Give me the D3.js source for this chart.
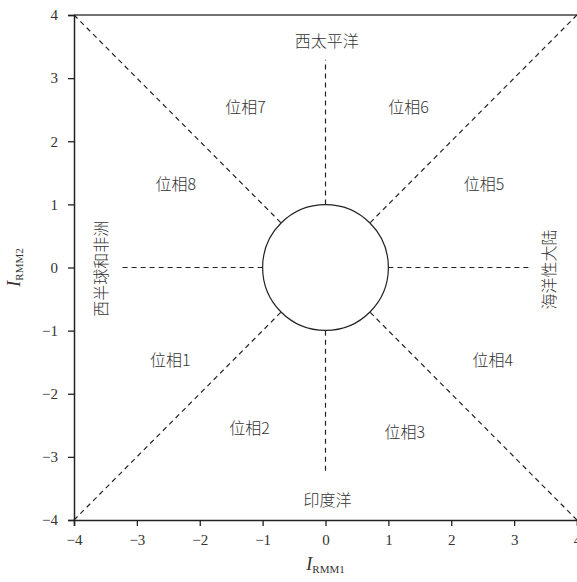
<!DOCTYPE html>
<html>
<head>
<meta charset="utf-8">
<script src="https://cdn.jsdelivr.net/npm/d3@7"></script>
<style>
  body { margin: 0; background: #fff; }
  svg text { fill: #333; }
  .tick text { font-family: "Liberation Serif", "DejaVu Serif", serif; font-size: 15px; }
  .zh { font-family: "Noto Sans CJK SC", sans-serif; font-size: 16px; font-weight: 300; }
</style>
</head>
<body>
<div id="chart"></div>
<script>
// axis ticks
const xTicks = [-4, -3, -2, -1, 0, 1, 2, 3, 4];
const yTicks = [-4, -3, -2, -1, 0, 1, 2, 3, 4];

// phase labels and where they sit
const phaseNames = ["位相1", "位相2", "位相3", "位相4", "位相5", "位相6", "位相7", "位相8"];
const phaseX = [-2.47, -1.21, 1.26, 2.66, 2.52, 1.32, -1.27, -2.38];
const phaseY = [-1.45, -2.53, -2.59, -1.45, 1.34, 2.56, 2.56, 1.34];

// region labels
const regionNames = ["西太平洋", "印度洋", "西半球和非洲", "海洋性大陆"];
const regionX = [0.02, 0.03, -3.58, 3.54];
const regionY = [3.61, -3.67, -0.02, -0.03];
const regionRot = [0, 0, -90, -90];

// dashed guide lines (start -> end)
const lineX1 = [-4, 4, 4, -4, 0, 0, -1, 1];
const lineY1 = [4, 4, -4, -4, 1, -1, 0, 0];
const lineX2 = [-0.707, 0.707, 0.707, -0.707, 0, 0, -3.25, 3.28];
const lineY2 = [0.707, 0.707, -0.707, -0.707, 3.29, -3.26, 0, 0];

const W = 577, H = 582;
const margin = {left: 74, top: 15, right: 0, bottom: 62};

const svg = d3.select("#chart").append("svg")
  .attr("width", W).attr("height", H);

const x = d3.scaleLinear().domain([-4, 4]).range([margin.left, W - margin.right]);
const y = d3.scaleLinear().domain([-4, 4]).range([H - margin.bottom, margin.top]);

//Top frame line
svg.append("line")
  .attr("x1", x(-4)).attr("x2", x(4)).attr("y1", y(4)).attr("y2", y(4))
  .attr("stroke", "#444").attr("stroke-width", 1.5);

//Axes
const fmt = d => d < 0 ? "\u2212" + Math.abs(d) : String(d);
const xAxis = svg.append("g")
  .attr("transform", `translate(0,${y(-4)})`)
  .call(d3.axisBottom(x).tickValues(xTicks).tickFormat(fmt).tickSizeOuter(0).tickSize(6).tickPadding(8));
const yAxis = svg.append("g")
  .attr("transform", `translate(${x(-4)},0)`)
  .call(d3.axisLeft(y).tickValues(yTicks).tickFormat(fmt).tickSizeOuter(0).tickSize(6).tickPadding(10));
[xAxis, yAxis].forEach(a => {
  a.select(".domain").attr("stroke", "#222").attr("stroke-width", 1.5);
  a.selectAll(".tick line").attr("stroke", "#222").attr("stroke-width", 1.3);
  a.selectAll(".tick text").attr("fill", "#444");
});

//Dashed lines
svg.selectAll("line.guide")
  .data(lineX1.map((d, i) => i))
  .enter()
  .append("line")
  .attr("class", "guide")
  .attr("x1", i => x(lineX1[i])).attr("y1", i => y(lineY1[i]))
  .attr("x2", i => x(lineX2[i])).attr("y2", i => y(lineY2[i]))
  .attr("stroke", "#222").attr("stroke-width", 1.2)
  .attr("stroke-dasharray", "5,4");

//Unit circle
svg.append("circle")
  .attr("cx", x(0)).attr("cy", y(0))
  .attr("r", x(1) - x(0))
  .attr("fill", "none").attr("stroke", "#222").attr("stroke-width", 1.2);

//Phase labels
svg.selectAll("text.phase")
  .data(phaseNames)
  .enter()
  .append("text")
  .attr("class", "phase zh")
  .attr("x", (d, i) => x(phaseX[i]))
  .attr("y", (d, i) => y(phaseY[i]))
  .attr("text-anchor", "middle")
  .attr("dominant-baseline", "central")
  .text(d => d);

//Region labels
svg.selectAll("text.region")
  .data(regionNames)
  .enter()
  .append("text")
  .attr("class", "region zh")
  .attr("text-anchor", "middle")
  .attr("dominant-baseline", "central")
  .attr("transform", (d, i) => `translate(${x(regionX[i])},${y(regionY[i])}) rotate(${regionRot[i]})`)
  .text(d => d);

//Axis titles
const xt = svg.append("text")
  .attr("x", x(0)).attr("y", 570)
  .attr("text-anchor", "middle")
  .style("font-family", "Liberation Serif, serif");
xt.append("tspan").attr("font-style", "italic").attr("font-size", 18).text("I");
xt.append("tspan").attr("font-size", 11).attr("dy", 3).text("RMM1");

const yt = svg.append("text")
  .attr("transform", `translate(20,${y(0)}) rotate(-90)`)
  .attr("text-anchor", "middle")
  .style("font-family", "Liberation Serif, serif");
yt.append("tspan").attr("font-style", "italic").attr("font-size", 18).text("I");
yt.append("tspan").attr("font-size", 11).attr("dy", 3).text("RMM2");
</script>
</body>
</html>
